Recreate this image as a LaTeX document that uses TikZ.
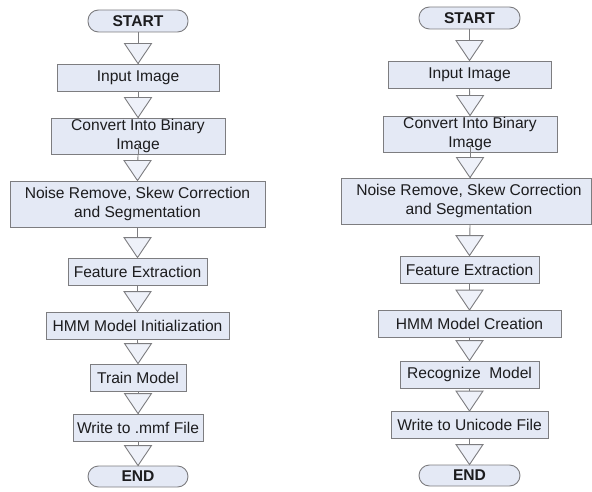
\documentclass[tikz,border=0pt]{standalone}
\usepackage{fontspec}
\setmainfont{Liberation Sans}
\usetikzlibrary{calc}
\definecolor{boxfill}{RGB}{228,233,245}
\definecolor{trifill}{RGB}{238,241,249}
\definecolor{edge}{RGB}{125,125,128}
\definecolor{ink}{RGB}{28,28,30}
\tikzset{
  every node/.style={font=\fontsize{15.6}{18.3}\selectfont, text=ink},
  stepbox/.style={draw=edge, line width=0.9pt, fill=boxfill, rectangle,
    inner sep=0pt, align=center},
  termbox/.style={draw=edge, line width=0.9pt, fill=boxfill, rectangle,
    rounded corners=10.5pt, inner sep=0pt, font=\fontsize{15.6}{18.3}\selectfont\bfseries},
  link/.style={draw=edge, line width=0.9pt},
  flowtri/.style={draw=edge, line width=0.9pt, fill=trifill, line join=miter}
}
% connector ending in a downward triangle that touches the next step
\newcommand\flowlink[2]{%
  \draw[link] (#1.south) -- (#2.north);
  \filldraw[flowtri] ($(#2.north)+(-13.5,-20)$) -- (#2.north) -- ($(#2.north)+(13.5,-20)$) -- cycle;
}
\begin{document}
\begin{tikzpicture}[x=1pt,y=-1pt]
\useasboundingbox (0,0) rectangle (592,492);

% left flow: training
\node[termbox, minimum width=100pt, minimum height=22pt] (s1) at (138,21) {START};
\node[stepbox, minimum width=162pt, minimum height=27pt] (in1) at (138,77.5) {Input Image};
\node[stepbox, minimum width=174pt, minimum height=36pt] (cv1) at (138,136) {Convert Into Binary\\Image};
\node[stepbox, minimum width=255pt, minimum height=46pt] (ns1) at (137.5,204) {Noise Remove, Skew Correction\\and Segmentation};
\node[stepbox, minimum width=139pt, minimum height=27pt] (fe1) at (137.5,271.5) {Feature Extraction};
\node[stepbox, minimum width=183pt, minimum height=27pt] (hm1) at (137.5,325.5) {HMM Model Initialization};
\node[stepbox, minimum width=96pt, minimum height=27pt] (tr1) at (138,377.5) {Train Model};
\node[stepbox, minimum width=130pt, minimum height=27pt] (wr1) at (138,427.5) {Write to .mmf File};
\node[termbox, minimum width=100pt, minimum height=21pt] (e1) at (138,476.5) {END};

\flowlink{s1}{in1}
\flowlink{in1}{cv1}
\draw[link] ($(cv1.south)+(0,-10)$) -- (cv1.south);
\flowlink{cv1}{ns1}
\flowlink{ns1}{fe1}
\flowlink{fe1}{hm1}
\flowlink{hm1}{tr1}
\flowlink{tr1}{wr1}
\flowlink{wr1}{e1}

% right flow: recognition
\node[termbox, minimum width=101pt, minimum height=22pt] (s2) at (469.5,18) {START};
\node[stepbox, minimum width=163pt, minimum height=27pt] (in2) at (469.5,74.5) {Input Image};
\node[stepbox, minimum width=174pt, minimum height=36pt] (cv2) at (470,134) {Convert Into Binary\\Image};
\node[stepbox, minimum width=250pt, minimum height=46pt] (ns2) at (466,201) {\hspace*{6pt}Noise Remove, Skew Correction\\\hspace*{6pt}and Segmentation};
\node[stepbox, minimum width=139pt, minimum height=27pt] (fe2) at (469.5,269.5) {Feature Extraction};
\node[stepbox, minimum width=183pt, minimum height=27pt] (hm2) at (469.5,324) {HMM Model Creation};
\node[stepbox, minimum width=139pt, minimum height=27pt] (rc2) at (469.5,374.5) {Recognize\ \ Model};
\node[stepbox, minimum width=157pt, minimum height=27pt] (wr2) at (469.5,425) {Write to Unicode File};
\node[termbox, minimum width=101pt, minimum height=21pt] (e2) at (469.5,475.5) {END};

\flowlink{s2}{in2}
\flowlink{in2}{cv2}
\draw[link] ($(cv2.south)+(0,-6)$) -- (cv2.south);
\draw[link] (cv2.south) -- (ns2.north -| cv2.south);
\filldraw[flowtri] ($(ns2.north -| cv2.south)+(-13.5,-20)$) -- (ns2.north -| cv2.south) -- ($(ns2.north -| cv2.south)+(13.5,-20)$) -- cycle;
\draw[link] (ns2.south -| cv2.south) -- (fe2.north);
\filldraw[flowtri] ($(fe2.north)+(-13.5,-20)$) -- (fe2.north) -- ($(fe2.north)+(13.5,-20)$) -- cycle;
\flowlink{fe2}{hm2}
\flowlink{hm2}{rc2}
\flowlink{rc2}{wr2}
\flowlink{wr2}{e2}
\end{tikzpicture}
\end{document}
